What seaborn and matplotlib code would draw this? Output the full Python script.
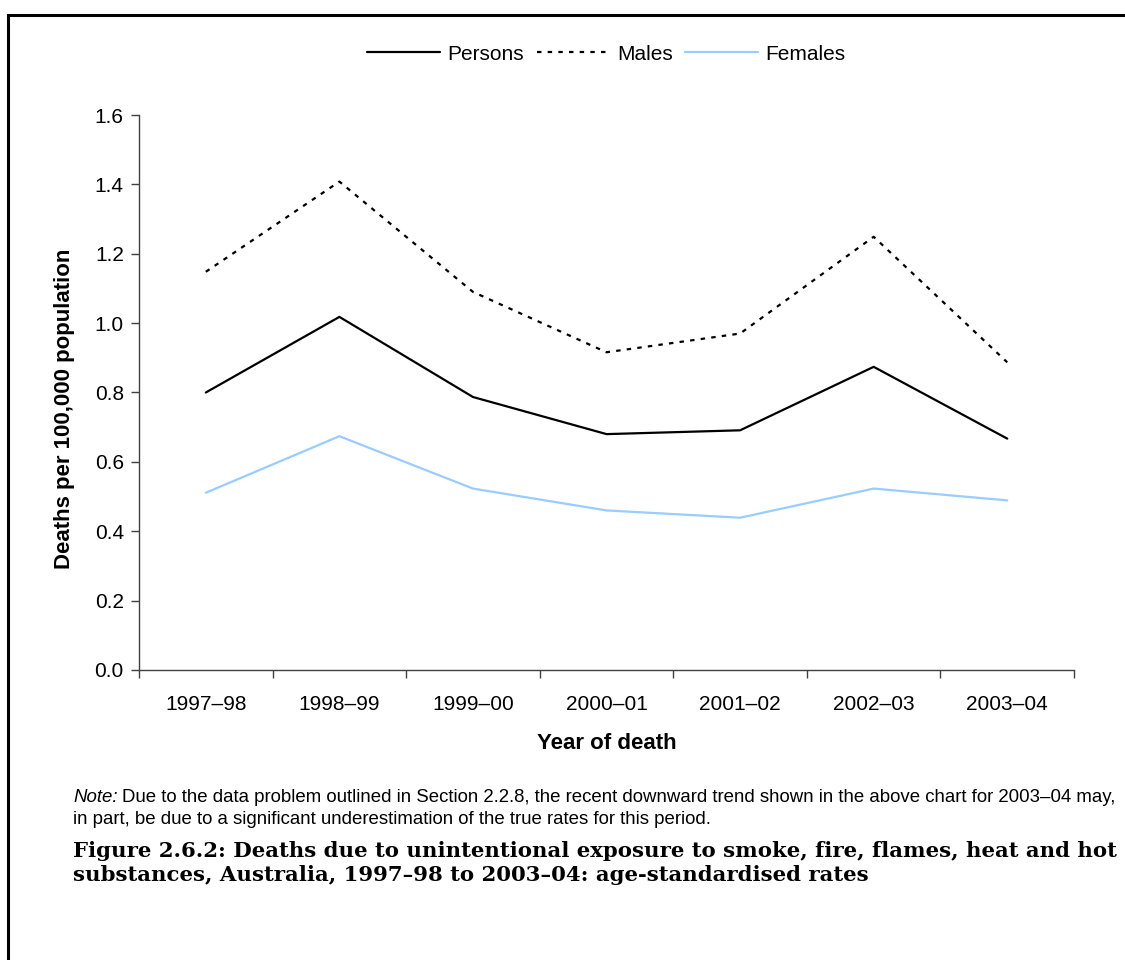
import numpy as np
import pandas as pd
import matplotlib
matplotlib.use("Agg")
import matplotlib.pyplot as plt
import seaborn as sns
from matplotlib.patches import Rectangle
from matplotlib.lines import Line2D

years = ['1997–98', '1998–99', '1999–00', '2000–01', '2001–02', '2002–03', '2003–04']
persons = [0.80, 1.018, 0.787, 0.680, 0.691, 0.874, 0.667]
males = [1.148, 1.408, 1.090, 0.916, 0.970, 1.249, 0.887]
females = [0.511, 0.674, 0.523, 0.460, 0.439, 0.523, 0.489]
yticks = [0.0, 0.2, 0.4, 0.6, 0.8, 1.0, 1.2, 1.4, 1.6]

series = ['Persons', 'Males', 'Females']
colors = {'Persons': 'black', 'Males': 'black', 'Females': '#99CCFF'}
dashes = {'Persons': '', 'Males': (2, 2.8), 'Females': ''}

# long-form table for seaborn
df = pd.DataFrame({
    'pos': list(range(len(years))) * 3,
    'year': years * 3,
    'rate': persons + males + females,
    'group': ['Persons'] * 7 + ['Males'] * 7 + ['Females'] * 7,
})

sns.set_style('white')
plt.rcParams['font.family'] = ['Liberation Sans', 'DejaVu Sans']
plt.rcParams['text.color'] = 'black'
plt.rcParams['axes.labelcolor'] = 'black'
plt.rcParams['xtick.color'] = 'black'
plt.rcParams['ytick.color'] = 'black'

fig = plt.figure(figsize=(11.25, 9.6), dpi=100)
ax = fig.add_axes([0.1236, 0.3021, 0.8311, 0.5781])

sns.lineplot(data=df, x='pos', y='rate', hue='group', style='group',
             hue_order=series, style_order=series, palette=colors,
             dashes=dashes, linewidth=1.6, legend=False, ax=ax)

# x axis: ticks at category boundaries, labels at centres
ax.set_xlim(-0.5, len(years) - 0.5)
ax.set_xticks(np.arange(-0.5, len(years), 1.0))
ax.set_xticklabels([])
ax.set_xticks(range(len(years)), minor=True)
ax.set_xticklabels(years, minor=True, fontsize=15)
ax.tick_params(axis='x', which='major', direction='out', length=6, width=1, color='#404040', bottom=True)
ax.tick_params(axis='x', which='minor', length=0, pad=18)

ax.set_ylim(0, 1.6)
ax.set_yticks(yticks)
ax.set_yticklabels([f'{v:.1f}' for v in yticks], fontsize=15)
ax.tick_params(axis='y', direction='out', length=6, width=1, color='#404040', left=True, pad=5)

for s in ['top', 'right']:
    ax.spines[s].set_visible(False)
for s in ['left', 'bottom']:
    ax.spines[s].set_color('#404040')
    ax.spines[s].set_linewidth(1)

ax.set_xlabel('Year of death', fontsize=16, fontweight='bold', labelpad=14)
ax.set_ylabel('Deaths per 100,000 population', fontsize=16, fontweight='bold')
ax.yaxis.set_label_coords(-0.068, 0.47)

handles = [Line2D([], [], color=colors[s], lw=1.6,
                  linestyle=(0, dashes[s]) if dashes[s] else '-') for s in series]
fig.legend(handles, series, loc='center', bbox_to_anchor=(0.539, 1 - 54 / 960), ncol=3,
           frameon=False, fontsize=15, handlelength=3.5, handletextpad=0.35, columnspacing=0.6)

# outer frame
fig.patches.append(Rectangle((8 / 1125, -0.1), 1.2, 1 - 15 / 960 + 0.1, transform=fig.transFigure,
                             fill=False, edgecolor='black', linewidth=2.2))

# note
fig.canvas.draw()
r = fig.canvas.get_renderer()
x0 = 73 / 1125
t = fig.text(x0, 1 - 797 / 960, 'Note:', fontsize=13.4, style='italic', va='center')
bb = t.get_window_extent(renderer=r)
fig.text(bb.x1 / fig.bbox.width + 0.004, 1 - 797 / 960,
         'Due to the data problem outlined in Section 2.2.8, the recent downward trend shown in the above chart for 2003–04 may,',
         fontsize=13.4, va='center')
fig.text(x0, 1 - 820 / 960,
         'in part, be due to a significant underestimation of the true rates for this period.',
         fontsize=13.4, va='center')

# caption
serif = ['DejaVu Serif', 'Liberation Serif']
fig.text(x0, 1 - 851 / 960,
         'Figure 2.6.2: Deaths due to unintentional exposure to smoke, fire, flames, heat and hot',
         fontsize=15.3, fontweight='bold', family=serif, va='center')
fig.text(x0, 1 - 875 / 960,
         'substances, Australia, 1997–98 to 2003–04: age-standardised rates',
         fontsize=15.3, fontweight='bold', family=serif, va='center')

fig.savefig('out.png', dpi=100)
